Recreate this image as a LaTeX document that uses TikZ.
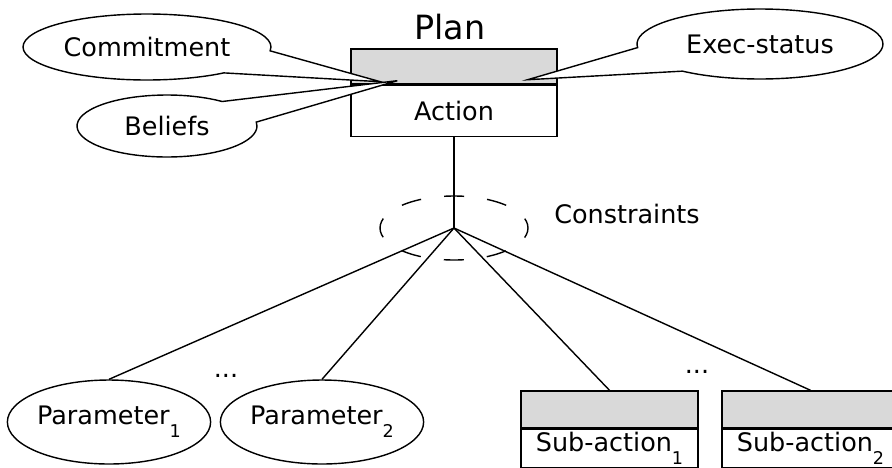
\documentclass[tikz,border=0pt]{standalone}
\usepackage{fontspec}
\setmainfont{DejaVu Sans}
\usetikzlibrary{shapes.geometric,shapes.callouts,calc}
\newcommand{\lowidx}[1]{\raisebox{-0.5em}{\fontsize{10}{12}\selectfont #1}}

\begin{document}
\begin{tikzpicture}[x=0.02cm, y=-0.02cm, line width=0.8pt,
    every node/.style={font=\fontsize{14.5}{17}\selectfont},
    bubble/.style={ellipse callout, draw, fill=white, inner sep=0pt, callout pointer arc=45},
    attr/.style={ellipse, draw, minimum width=3.8cm, minimum height=1.68cm, inner sep=0pt},
    hdr/.style={draw, fill=gray!30, inner sep=0pt},
    body/.style={draw, fill=white, inner sep=0pt},
    cstr/.style={dash pattern=on 11.4pt off 13.2pt, dash phase=5.7pt}]
        \useasboundingbox (0,0) rectangle (892,467);

        % the plan itself
        \node[font=\fontsize{19}{22}\selectfont] (plan) at (450,27) {Plan};
        \node[hdr, minimum width=4.12cm, minimum height=0.7cm] (planhd) at (454,66.5) {};
        \node[body, minimum width=4.12cm, minimum height=1.02cm, anchor=north] (act) at (planhd.south) {Action};

        \coordinate (cmtip) at ($(planhd.south west)+(30,-3)$);
        \coordinate (bltip) at ($(planhd.south west)+(47,-4)$);
        \coordinate (extip) at ($(planhd.south east)+(-30,-5)$);

        \node[bubble, minimum width=4.96cm, minimum height=1.32cm, callout absolute pointer=(cmtip)] (cmt) at (147,47) {Commitment};
        \node[bubble, minimum width=3.6cm, minimum height=1.24cm, callout absolute pointer=(bltip)] (blf) at (167,126) {Beliefs};
        \node[bubble, minimum width=4.92cm, minimum height=1.4cm, callout absolute pointer=(extip)] (exs) at (760,44) {Exec-status};

        % constraints
        \coordinate (apex) at (454,228);
        \draw (act.south) -- (apex);
        \draw[cstr] (apex) ellipse (1.48cm and 0.64cm);
        \node (cstrlbl) at (627,214) {Constraints};

        % parameters and sub-actions
        \node[attr] (par1) at (109,422) {Parameter\lowidx{1}};
        \node[attr] (par2) at (322,422) {Parameter\lowidx{2}};
        \node (dots1) at (226,376) {...};

        \node[hdr, minimum width=3.54cm, minimum height=0.74cm] (sub1hd) at (609.5,409.5) {};
        \node[body, minimum width=3.54cm, minimum height=0.76cm, anchor=north] (sub1) at (sub1hd.south) {Sub-action\lowidx{1}};
        \node[hdr, minimum width=3.54cm, minimum height=0.74cm] (sub2hd) at (810.5,409.5) {};
        \node[body, minimum width=3.54cm, minimum height=0.76cm, anchor=north] (sub2) at (sub2hd.south) {Sub-action\lowidx{2}};
        \node (dots2) at (697,372) {...};

        \foreach \c in {par1,par2,sub1hd,sub2hd}
            \draw (apex) -- (\c.north);

    \end{tikzpicture}
\end{document}
